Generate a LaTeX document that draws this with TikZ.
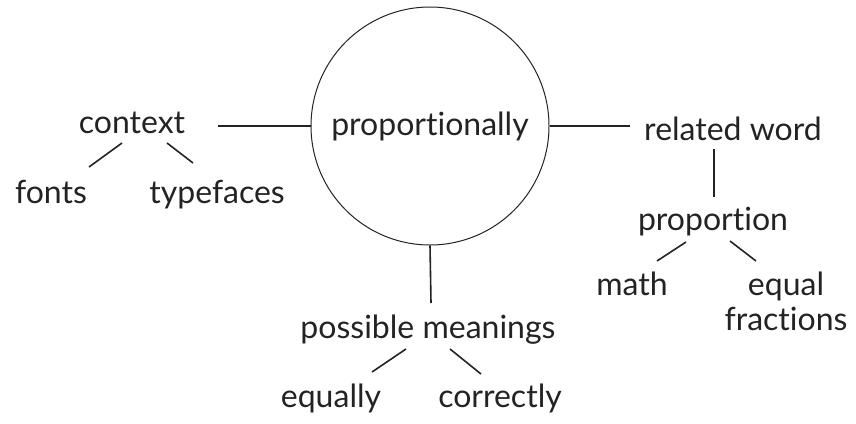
\documentclass[tikz,border=0pt]{standalone}
\usepackage{fontspec}
\setmainfont{Lato}[Ligatures=NoCommon]
\usepackage{tikz}
\usetikzlibrary{calc}
\definecolor{inkdark}{RGB}{35,35,35}
\tikzset{
  word/.style={inner sep=0pt, anchor=base, font=\fontsize{16}{17.5}\selectfont, text=inkdark},
  hubcircle/.style={circle, draw=inkdark, line width=0.5pt, minimum size=119pt,
    inner sep=0pt, font=\fontsize{16}{17.5}\selectfont, text=inkdark},
  link/.style={line width=0.8pt, color=inkdark}
}
\begin{document}
\begin{tikzpicture}[x=0.5pt, y=-0.5pt]
  \useasboundingbox (0,0) rectangle (856,423);
  % Central word
  \node[hubcircle] (hub) at (430,126) {proportionally};

  % Left branch
  \node[word] (context) at (132,133) {context};
  \node[word] (fonts) at (51,203) {fonts};
  \node[word] (typefaces) at (217,203) {typefaces};

  % Right branch
  \node[word] (related) at (733,140) {related word};
  \node[word] (proportion) at (713,230) {proportion};
  \node[word] (math) at (632,295) {math};
  \node[word, anchor=north, align=center] (equal) at (786,272) {equal\\fractions};

  % Bottom branch
  \node[word] (possible) at (428,338) {possible meanings};
  \node[word] (equally) at (331,407) {equally};
  \node[word] (correctly) at (500,407) {correctly};

  % Links to the hub
  \draw[link] ($(context.base)+(86,-7)$) -- (hub.west);
  \draw[link] (hub.east) -- ($(related.base)+(-103,-14)$);
  \draw[link] (hub.south) -- ($(possible.base)+(3,-35)$);

  % Sub-branches
  \draw[link] ($(context.base)+(-10,10)$) -- ($(fonts.base)+(38,-36)$);
  \draw[link] ($(context.base)+(35,10)$) -- ($(typefaces.base)+(-24,-40)$);
  \draw[link] ($(related.base)+(-19,9)$) -- ($(proportion.base)+(1,-33)$);
  \draw[link] ($(proportion.base)+(-27,12)$) -- ($(math.base)+(25,-34)$);
  \draw[link] ($(proportion.base)+(17,11)$) -- ($(equal.north)+(-30,-11)$);
  \draw[link] ($(possible.base)+(-22,11)$) -- ($(equally.base)+(41,-35)$);
  \draw[link] ($(possible.base)+(22,11)$) -- ($(correctly.base)+(-19,-33)$);
\end{tikzpicture}
\end{document}
